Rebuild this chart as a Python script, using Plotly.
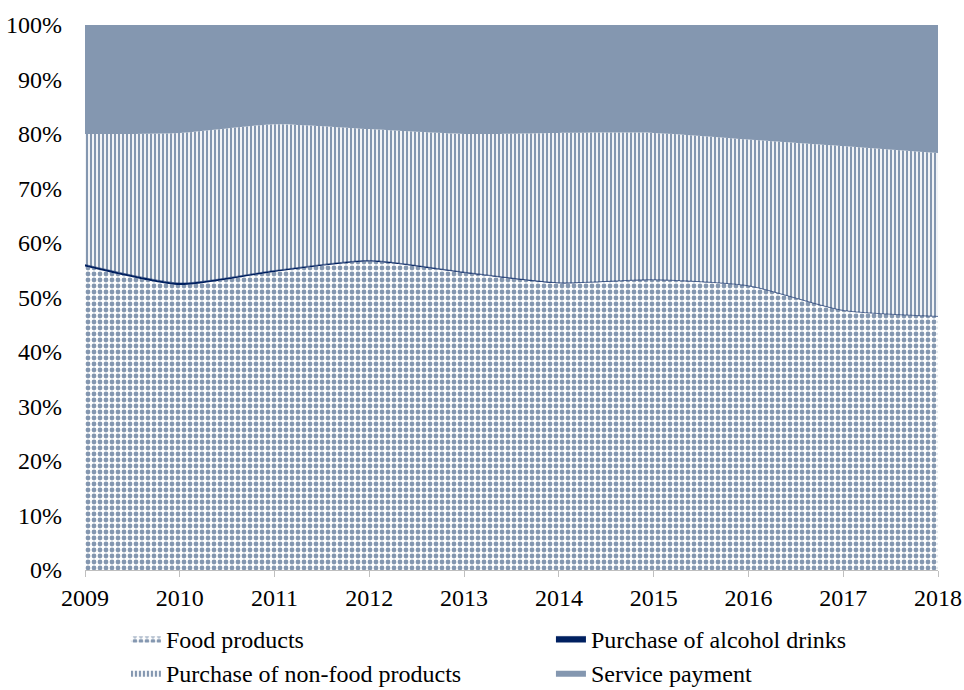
import plotly.graph_objects as go

years = [2009, 2010, 2011, 2012, 2013, 2014, 2015, 2016, 2017, 2018]
food = [55.7, 52.3, 54.7, 56.6, 54.5, 52.6, 53.2, 52.1, 47.6, 46.5]
alcohol = [0.35, 0.35, 0.25, 0.2, 0.15, 0.1, 0.06, 0.05, 0.03, 0.03]
nonfood = [23.95, 27.55, 26.85, 24.1, 25.35, 27.5, 26.94, 26.85, 30.17, 29.97]
service = [20.0, 19.8, 18.2, 19.1, 20.0, 19.8, 19.8, 21.0, 22.2, 23.5]

BLUEGRAY = "#8497B0"
NAVY = "#002060"
FONT = "Liberation Serif, Times New Roman, serif"

fig = go.Figure()
common = dict(x=years, stackgroup="one", groupnorm="percent", mode="lines",
              line=dict(width=0, shape="spline", smoothing=0.6))

fig.add_trace(go.Scatter(y=food, name="Food products", fillcolor="white",
                         fillpattern=dict(shape=".", fgcolor=BLUEGRAY, bgcolor="white",
                                          fgopacity=1, fillmode="replace",
                                          size=6, solidity=0.5),
                         **common))
c2 = dict(common)
c2["line"] = dict(width=0.6, color=NAVY, shape="spline", smoothing=0.6)
fig.add_trace(go.Scatter(y=alcohol, name="Purchase of alcohol drinks", fillcolor=NAVY, **c2))
fig.add_trace(go.Scatter(y=nonfood, name="Purchase of non-food products", fillcolor="white",
                         fillpattern=dict(shape="|", fgcolor=BLUEGRAY, bgcolor="white",
                                          fgopacity=1, fillmode="replace",
                                          size=4, solidity=0.55),
                         **common))
fig.add_trace(go.Scatter(y=service, name="Service payment", fillcolor=BLUEGRAY, **common))

fig.update_layout(
    width=964, height=690,
    margin=dict(l=85, r=26, t=25, b=120, autoexpand=False),
    paper_bgcolor="white", plot_bgcolor="white",
    font=dict(family=FONT, size=24, color="black"),
    showlegend=True,
    legend=dict(orientation="h", x=0.048, xanchor="left", y=-0.085, yanchor="top",
                traceorder="normal", entrywidth=380, entrywidthmode="pixels",
                itemwidth=30, font=dict(family=FONT, size=24), tracegroupgap=0),
)
fig.update_xaxes(range=[2009, 2018], tickmode="array", tickvals=years,
                 ticktext=[str(y) for y in years], showgrid=False, zeroline=False,
                 showline=True, linecolor="#BFBFBF", linewidth=1,
                 ticks="outside", ticklen=6, tickcolor="#BFBFBF")
fig.update_yaxes(range=[0, 100], tickvals=list(range(0, 101, 10)),
                 ticktext=[f"{v}%" for v in range(0, 101, 10)],
                 showgrid=False, zeroline=False, showline=False, ticks="",
                 ticklabelstandoff=22)

fig.write_html("out.html")
